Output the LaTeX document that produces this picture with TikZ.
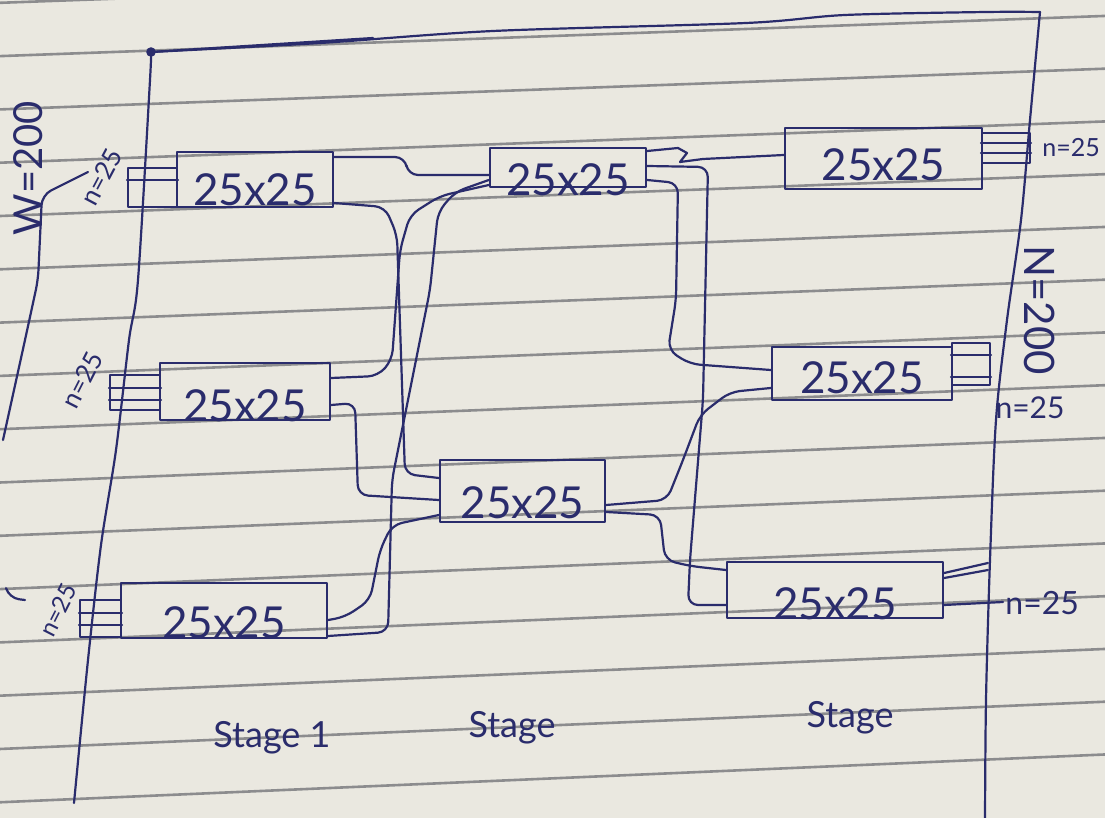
\documentclass[tikz,border=0pt]{standalone}
\usepackage{fontspec}
\setmainfont{Lato}
\usetikzlibrary{fit,calc}
\definecolor{paper}{RGB}{234,232,224}
\definecolor{rulecol}{RGB}{140,140,142}
\definecolor{ink}{RGB}{42,44,108}
\begin{document}
\begin{tikzpicture}[x=0.5pt,y=-0.5pt,
  ruled/.style={draw=rulecol,line width=1.3pt},
  pen/.style={draw=ink,line width=1.1pt,line cap=round,line join=round},
  wire/.style={pen,rounded corners=5pt},
  switchbox/.style={pen,line width=1.2pt,inner sep=0pt},
  boxtext/.style={text=ink,inner sep=0pt,font=\fontsize{22}{22}\selectfont},
  portbox/.style={pen,inner sep=0pt},
  hand/.style={text=ink,inner sep=0pt},
  stagelbl/.style={hand,font=\fontsize{18}{18}\selectfont},
  nlbl/.style={hand,font=\fontsize{13}{13}\selectfont}]

% paper
\fill[paper] (0,0) rectangle (1105,818);
\useasboundingbox (0,0) rectangle (1105,818);

% ruled lines of the notebook page
\foreach \i in {0,...,15}{
  \pgfmathsetmacro{\yl}{3+53.3*\i}
  \pgfmathsetmacro{\yr}{\yl-40-0.55*\i}
  \draw[ruled] (-5,\yl) -- (1110,\yr);
}

% outer frame of the network
\coordinate (tl) at (151,52);
\coordinate (tr) at (1040,12);
\draw[pen] plot[smooth] coordinates {(151,52) (150,80) (138,280) (129,340) (116,450) (101,545) (88,660) (74,803)};
\draw[pen] plot[smooth] coordinates {(1040,12) (1030,120) (1021,220) (1007,320) (996,420) (990,560) (986,700) (985,822)};
\draw[pen] plot[smooth] coordinates {(151,52) (320,43) (493,31) (746,23) (845,15) (986,12) (1040,12)};
\draw[pen] (tl) -- (373,38);
\fill[ink] (tl) circle (2.4pt);

% stage 1 switches
\node[switchbox,fit={(177,152) (333,207)},label={[boxtext,yshift=-5pt]center:25x25}] (s1a) {};
\node[switchbox,fit={(160,363) (330,420)},label={[boxtext,yshift=-7pt]center:25x25}] (s1b) {};
\node[switchbox,fit={(121,583) (327,638)},label={[boxtext,yshift=-6pt]center:25x25}] (s1c) {};
% stage 2 switches
\node[switchbox,fit={(490,148) (646,187)},label={[boxtext,yshift=-6pt]center:25x25}] (s2a) {};
\node[switchbox,fit={(440,460) (605,522)},label={[boxtext,yshift=-6pt]center:25x25}] (s2b) {};
% stage 3 switches
\node[switchbox,fit={(785,128) (982,189)},label={[boxtext,yshift=-3pt]center:25x25}] (s3a) {};
\node[switchbox,fit={(772,347) (952,400)},label={[boxtext,yshift=-2pt]center:25x25}] (s3b) {};
\node[switchbox,fit={(727,562) (943,618)},label={[boxtext,yshift=-7pt]center:25x25}] (s3c) {};

% input ports of stage 1
\node[portbox,fit={(128,168) (177,207)}] (p1a) {};
\draw[pen] (p1a.west |- 0,180) -- (p1a.east |- 0,180);
\node[portbox,fit={(110,375) (160,410)}] (p1b) {};
\draw[pen] (p1b.west |- 0,388) -- (p1b.east |- 0,388);
\draw[pen] (p1b.west |- 0,400) -- (p1b.east |- 0,400);
\node[portbox,fit={(80,600) (121,637)}] (p1c) {};
\draw[pen] (p1c.west |- 0,613) -- (p1c.east |- 0,613);
\draw[pen] (p1c.west |- 0,625) -- (p1c.east |- 0,625);

% output ports of stage 3
\node[portbox,fit={(982,133) (1030,163)}] (p3a) {};
\draw[pen] (p3a.west |- 0,143) -- (p3a.east |- 0,143);
\draw[pen] (p3a.west |- 0,153) -- (p3a.east |- 0,153);
\node[portbox,fit={(952,343) (990,385)}] (p3b) {};
\draw[pen] (p3b.west |- 0,355) -- (p3b.east |- 0,355);
\draw[pen] (p3b.west |- 0,377) -- (p3b.east |- 0,377);
\coordinate (o3c1) at (988,563);
\coordinate (o3c2) at (988,570);
\coordinate (o3c3) at (1003,602);
\draw[pen] (s3c.east |- 0,573) -- (o3c1);
\draw[pen] (s3c.east |- 0,578) -- (o3c2);
\draw[pen] (s3c.east |- 0,605) -- (o3c3);

% stage 1 -> stage 2 links
\draw[wire] (s1a.east |- 0,157) -- (405,157) -- (408,175) -- (s2a.west |- 0,175);
\draw[wire] (s1a.east |- 0,203) -- (385,207) -- (397,235) -- (405,474) -- (s2b.west |- 0,478);
\draw[wire] (s1b.east |- 0,378) -- (378,376) -- (392,360) -- (400,250) -- (410,215) -- (440,196) -- (s2a.west |- 0,185);
\draw[wire] (s1b.east |- 0,405) -- (355,403) -- (358,495) -- (s2b.west |- 0,500);
\draw[wire] (s1c.east |- 0,620) -- (345,617) -- (370,600) -- (380,550) -- (392,525) -- (s2b.west |- 0,515);
\draw[wire] (s1c.east |- 0,636) -- (388,632) -- (392,480) -- (430,290) -- (438,212) -- (455,192) -- (s2a.west |- 0,180);

% stage 2 -> stage 3 links
\draw[pen] (s2a.east |- 0,151) -- (678,148) -- (687,153) -- (680,162) -- (703,159) -- (s3a.west |- 0,155);
\draw[wire] (s2a.east |- 0,180) -- (678,183) -- (676,300) -- (668,350) -- (690,364) -- (s3b.west |- 0,370);
\draw[wire] (s2a.east |- 0,166) -- (708,167) -- (703,400) -- (690,560) -- (688,605) -- (s3c.west |- 0,605);
\draw[wire] (s2b.east |- 0,505) -- (667,500) -- (683,460) -- (700,415) -- (730,392) -- (s3b.west |- 0,388);
\draw[wire] (s2b.east |- 0,512) -- (660,515) -- (665,560) -- (690,566) -- (s3c.west |- 0,570);

% input bracket W
\draw[wire] (88,172) -- (42,195) -- (38,280) -- (25,340) -- (3,440);
\draw[wire] (6,588) -- (9,598) -- (25,600);

% labels
\node[hand,rotate=90,font=\fontsize{20}{20}\selectfont] (wlbl) at (28,168) {W=200};
\node[hand,rotate=-90,font=\fontsize{21}{21}\selectfont] (nlbl) at (1040,310) {N=200};
\node[nlbl,rotate=62] (n1a) at (101,177) {n=25};
\node[nlbl,rotate=63] (n1b) at (82,380) {n=25};
\node[nlbl,rotate=63,font=\fontsize{12}{12}\selectfont] (n1c) at (58,610) {n=25};
\node[nlbl,anchor=west,font=\fontsize{12.5}{12.5}\selectfont] (n3a) at (1042,148) {n=25};
\node[nlbl,font=\fontsize{15}{15}\selectfont] (n3b) at (1030,408) {n=25};
\node[nlbl,anchor=west,font=\fontsize{16}{16}\selectfont] (n3c) at (1005,603) {n=25};

\node[stagelbl] (st1) at (272,738) {Stage 1};
\node[stagelbl] (st2) at (512,728) {Stage};
\node[stagelbl] (st3) at (850,718) {Stage};
\end{tikzpicture}
\end{document}
